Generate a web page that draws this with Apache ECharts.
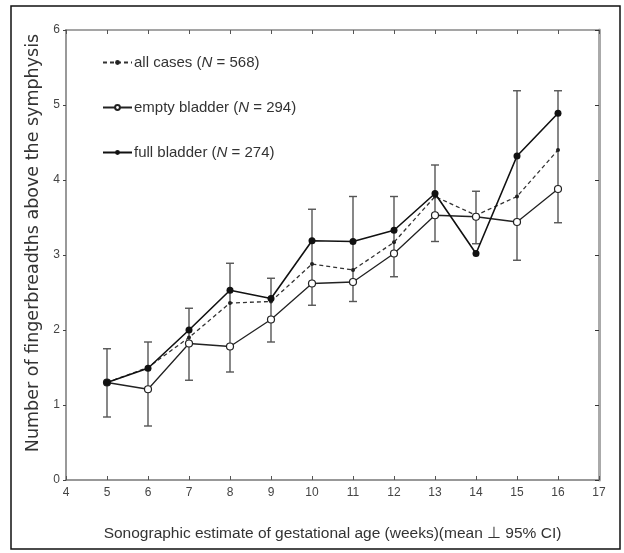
<!DOCTYPE html>
<html lang="en">
<head>
    <meta charset="UTF-8">
    <title>Fingerbreadths above the symphysis</title>
    <script src="https://cdn.jsdelivr.net/npm/echarts@6/dist/echarts.min.js"></script>
    <style>
        html, body { margin: 0; padding: 0; background: #fff; }
    </style>
</head>
<body>
    <div id="main" style="width:624px;height:553px;"></div>

    <script>
    // data
    var weeks = [5, 6, 7, 8, 9, 10, 11, 12, 13, 14, 15, 16];
    var allCases = [1.30, 1.50, 1.90, 2.36, 2.38, 2.88, 2.80, 3.17, 3.78, 3.53, 3.78, 4.40];
    var emptyBladder = [1.30, 1.21, 1.82, 1.78, 2.14, 2.62, 2.64, 3.02, 3.53, 3.51, 3.44, 3.88];
    var fullBladder = [1.30, 1.49, 2.00, 2.53, 2.42, 3.19, 3.18, 3.33, 3.82, 3.02, 4.32, 4.89];
    // 95% CI extents (outer caps visible per week)
    var ciLow = [0.84, 0.72, 1.33, 1.44, 1.84, 2.33, 2.38, 2.71, 3.18, 3.15, 2.93, 3.43];
    var ciHigh = [1.75, 1.84, 2.29, 2.89, 2.69, 3.61, 3.78, 3.78, 4.20, 3.85, 5.19, 5.19];
    var xTicks = [4, 5, 6, 7, 8, 9, 10, 11, 12, 13, 14, 15, 16, 17];
    var yTicks = [0, 1, 2, 3, 4, 5, 6];

    var legendText = {
        'all cases': 568,
        'empty bladder': 294,
        'full bladder': 274
    };

    function pairs(xs, ys) {
        var out = [];
        for (var i = 0; i < xs.length; i++) out.push([xs[i], ys[i]]);
        return out;
    }

    var errData = [];
    for (var i = 0; i < weeks.length; i++) errData.push([weeks[i], ciLow[i], ciHigh[i]]);

    // vertical error bar with caps
    function renderErr(params, api) {
        var x = api.value(0);
        var top = api.coord([x, api.value(2)]);
        var bot = api.coord([x, api.value(1)]);
        var w = 4;
        var st = { stroke: '#555', lineWidth: 1.4 };
        return {
            type: 'group',
            children: [
                { type: 'line', shape: { x1: top[0], y1: top[1], x2: bot[0], y2: bot[1] }, style: st },
                { type: 'line', shape: { x1: top[0] - w, y1: top[1], x2: top[0] + w, y2: top[1] }, style: st },
                { type: 'line', shape: { x1: bot[0] - w, y1: bot[1], x2: bot[0] + w, y2: bot[1] }, style: st }
            ]
        };
    }

    var font = 'Liberation Sans, Arial, sans-serif';
    var myChart = echarts.init(document.getElementById('main'));

    var option = {
        animation: false,
        textStyle: { fontFamily: font },
        graphic: [{
            type: 'rect',
            shape: { x: 11, y: 6, width: 609, height: 543 },
            style: { fill: 'none', stroke: '#111', lineWidth: 1.5 },
            silent: true
        }],
        grid: { left: 66, right: 25, top: 30, bottom: 73 },
        legend: {
            orient: 'vertical',
            left: 97,
            top: 50,
            itemWidth: 29,
            itemHeight: 6,
            itemGap: 30,
            data: ['all cases', 'empty bladder', 'full bladder'],
            formatter: function (name) {
                return '{t|' + name + ' (}{i|N}{t| = ' + legendText[name] + ')}';
            },
            textStyle: {
                color: '#333',
                padding: [0, 0, 0, -3],
                rich: {
                    t: { fontSize: 15, fontFamily: font, color: '#333' },
                    i: { fontSize: 15, fontFamily: font, fontStyle: 'italic', color: '#333' }
                }
            }
        },
        xAxis: [{
            type: 'value',
            min: 4,
            max: 17,
            interval: 1,
            position: 'bottom',
            name: 'Sonographic estimate of gestational age (weeks)(mean \u22a5 95% CI)',
            nameLocation: 'middle',
            nameGap: 46,
            nameTextStyle: { fontSize: 15.5, color: '#333', fontFamily: font },
            axisLine: { onZero: false, lineStyle: { color: '#777', width: 1.5 } },
            axisTick: { inside: true, length: 4, lineStyle: { color: '#555' } },
            axisLabel: {
                margin: 7,
                fontSize: 12,
                color: '#444',
                formatter: function (v) { return xTicks.indexOf(v) >= 0 ? String(v) : ''; }
            },
            splitLine: { show: false }
        }, {
            type: 'value',
            min: 4,
            max: 17,
            interval: 1,
            position: 'top',
            axisLine: { onZero: false, lineStyle: { color: '#888', width: 1.5 } },
            axisTick: { inside: true, length: 4, lineStyle: { color: '#555' } },
            axisLabel: { show: false },
            splitLine: { show: false }
        }],
        yAxis: [{
            type: 'value',
            min: 0,
            max: 6,
            interval: 1,
            position: 'left',
            name: 'Number of fingerbreadths above the symphysis',
            nameLocation: 'middle',
            nameGap: 22,
            nameTextStyle: {
                fontSize: 17.5,
                color: '#333',
                fontFamily: 'DejaVu Sans, sans-serif',
                padding: [0, 0, 0, 24]
            },
            axisLine: { onZero: false, lineStyle: { color: '#999', width: 2 } },
            axisTick: { length: 3, lineStyle: { color: '#444' } },
            axisLabel: {
                margin: 6,
                fontSize: 12,
                color: '#444',
                formatter: function (v) { return yTicks.indexOf(v) >= 0 ? String(v) : ''; }
            },
            splitLine: { show: false }
        }, {
            type: 'value',
            min: 0,
            max: 6,
            interval: 1,
            position: 'right',
            axisLine: { onZero: false, lineStyle: { color: '#aaa', width: 3 } },
            axisTick: { inside: true, length: 4, lineStyle: { color: '#333' } },
            axisLabel: { show: false },
            splitLine: { show: false }
        }],
        series: [{
            name: 'CI',
            type: 'custom',
            renderItem: renderErr,
            data: errData,
            z: 1
        }, {
            name: 'all cases',
            type: 'line',
            data: pairs(weeks, allCases),
            symbol: 'circle',
            symbolSize: 4,
            color: '#222',
            itemStyle: { color: '#222' },
            lineStyle: { color: '#333', width: 1.3, type: [4, 3] },
            z: 3
        }, {
            name: 'empty bladder',
            type: 'line',
            data: pairs(weeks, emptyBladder),
            symbol: 'circle',
            symbolSize: 7,
            color: '#222',
            itemStyle: { color: '#fff', borderColor: '#222', borderWidth: 1.2 },
            lineStyle: { color: '#222', width: 1.3 },
            z: 4
        }, {
            name: 'full bladder',
            type: 'line',
            data: pairs(weeks, fullBladder),
            symbol: 'circle',
            symbolSize: 7,
            color: '#111',
            itemStyle: { color: '#111' },
            lineStyle: { color: '#111', width: 1.6 },
            z: 5
        }]
    };

    myChart.setOption(option);
    </script>
</body>
</html>
